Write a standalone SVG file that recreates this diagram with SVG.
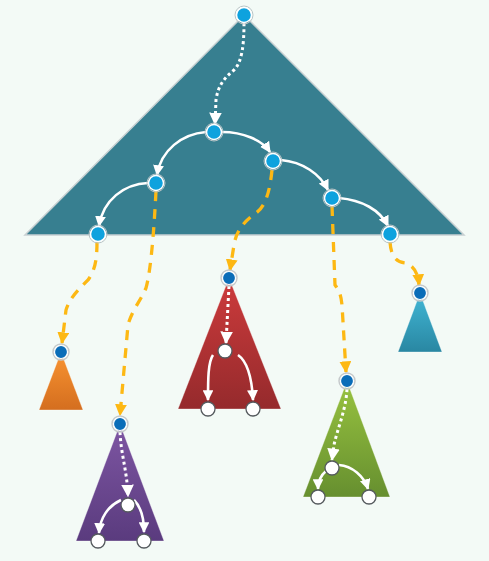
<svg xmlns="http://www.w3.org/2000/svg" width="489" height="561" viewBox="0 0 489 561">
<defs>
<linearGradient id="gOrange" x1="0" y1="0" x2="0" y2="1"><stop offset="0" stop-color="#f99431"/><stop offset="1" stop-color="#d46e1f"/></linearGradient>
<linearGradient id="gPurple" x1="0" y1="0" x2="0" y2="1"><stop offset="0" stop-color="#7e56a3"/><stop offset="1" stop-color="#5a3b7e"/></linearGradient>
<linearGradient id="gRed" x1="0" y1="0" x2="0" y2="1"><stop offset="0" stop-color="#cd3b3c"/><stop offset="1" stop-color="#952a2c"/></linearGradient>
<linearGradient id="gGreen" x1="0" y1="0" x2="0" y2="1"><stop offset="0" stop-color="#98c340"/><stop offset="1" stop-color="#668f2f"/></linearGradient>
<linearGradient id="gCyan" x1="0" y1="0" x2="0" y2="1"><stop offset="0" stop-color="#42b7d6"/><stop offset="1" stop-color="#2987a2"/></linearGradient>
<marker id="aw" viewBox="0 0 10 10" refX="9" refY="5" markerWidth="4.2" markerHeight="4.2" orient="auto" markerUnits="strokeWidth"><path d="M0,0 L10,5 L0,10 Z" fill="#ffffff"/></marker>
<marker id="ay" viewBox="0 0 10 10" refX="9" refY="5" markerWidth="3.6" markerHeight="3.6" orient="auto" markerUnits="strokeWidth"><path d="M0,0 L10,5 L0,10 Z" fill="#fdb813"/></marker>
</defs>
<style>
.tri{stroke:#ffffff;stroke-opacity:0.35;stroke-width:1}
.solid{fill:none;stroke:#ffffff;stroke-width:2.6;marker-end:url(#aw)}
.dot{fill:none;stroke:#ffffff;stroke-width:3;stroke-dasharray:3 3;marker-end:url(#aw)}
.dash{fill:none;stroke:#fdb813;stroke-width:3.3;stroke-dasharray:10 8;marker-end:url(#ay)}
.lb{fill:#0ea2de;stroke:#ffffff;stroke-width:1.5}
.lbr{fill:none;stroke:#b9c4c6;stroke-width:1}
.db{fill:#0a6db8;stroke:#ffffff;stroke-width:1.2}
.dbr{fill:none;stroke:#c4c8ca;stroke-width:1.4}
.wn{fill:#ffffff;stroke:#555a5e;stroke-width:1.3}
</style>
<rect width="489" height="561" fill="#f3faf6"/>
<g id="shapes">
<polygon id="main-tree" points="244,15 464,235 25,235" fill="#377f90" stroke="#c8d0d2" stroke-width="1.5"/>
<polygon id="orange-tree" class="tri" points="61,352 83,410 39,410" fill="url(#gOrange)"/>
<polygon id="purple-tree" class="tri" points="120,424 164,541 76,541" fill="url(#gPurple)"/>
<polygon id="red-tree" class="tri" points="229,278 281,409 178,409" fill="url(#gRed)"/>
<polygon id="green-tree" class="tri" points="347,381 390,497 303,497" fill="url(#gGreen)"/>
<polygon id="cyan-tree" class="tri" points="420,293 442,352 398,352" fill="url(#gCyan)"/>
</g>
<g id="connectors">
<path class="dot" d="M244,23 C244,45 242,62 234,70 C224,78 218,86 216,100 L215,124"/>
<path class="solid" d="M206,132 C182,134 161,150 157,175"/>
<path class="solid" d="M222,132 C243,132 262,140 270,152"/>
<path class="solid" d="M148,183 C124,184 103,200 99,226"/>
<path class="solid" d="M281,160 C303,162 320,174 328,190"/>
<path class="solid" d="M339,198 C362,200 380,210 388,226"/>
<path class="dash" d="M97,242 C97,260 95,270 88,280 C76,292 70,298 66,310 L62,343"/>
<path class="dash" d="M156,191 C154,230 151,270 146,288 C140,302 132,310 128,325 L120,415"/>
<path class="dash" d="M272,170 C270,190 266,206 256,213 C243,222 236,232 234,245 L230,270"/>
<path class="dash" d="M332,206 L335,285 C340,292 341,296 342,305 L346,372"/>
<path class="dash" d="M390,242 C391,256 396,262 405,263 C413,265 418,272 419,285"/>
<path class="dot" d="M229,286 L226,343"/>
<path class="solid" d="M213,355 C208,362 208,380 208,400"/>
<path class="solid" d="M238,355 C248,362 252,380 253,400"/>
<path class="dot" d="M120,432 C121,455 127,470 128,496"/>
<path class="solid" d="M121,500 C108,506 100,518 99,533"/>
<path class="solid" d="M134,500 C142,508 144,520 144,532"/>
<path class="dot" d="M347,389 C346,410 337,430 334,445 L332,460"/>
<path class="solid" d="M326,471 C320,476 318,482 318,489"/>
<path class="solid" d="M339,465 C352,466 364,476 368,489"/>
</g>
<g id="n-root"><circle class="lbr" cx="244" cy="15" r="9"/><circle class="lb" cx="244" cy="15" r="7.5"/></g>
<g id="n-a"><circle class="lbr" cx="214" cy="132" r="9"/><circle class="lb" cx="214" cy="132" r="7.5"/></g>
<g id="n-b"><circle class="lbr" cx="273" cy="161" r="9"/><circle class="lb" cx="273" cy="161" r="7.5"/></g>
<g id="n-c"><circle class="lbr" cx="156" cy="183" r="9"/><circle class="lb" cx="156" cy="183" r="7.5"/></g>
<g id="n-d"><circle class="lbr" cx="332" cy="198" r="9"/><circle class="lb" cx="332" cy="198" r="7.5"/></g>
<g id="n-e"><circle class="lbr" cx="98" cy="234" r="9"/><circle class="lb" cx="98" cy="234" r="7.5"/></g>
<g id="n-f"><circle class="lbr" cx="390" cy="234" r="9"/><circle class="lb" cx="390" cy="234" r="7.5"/></g>
<g id="n-orange"><circle class="dbr" cx="61" cy="352" r="8"/><circle class="db" cx="61" cy="352" r="6.5"/></g>
<g id="n-purple"><circle class="dbr" cx="120" cy="424" r="8"/><circle class="db" cx="120" cy="424" r="6.5"/></g>
<g id="n-red"><circle class="dbr" cx="229" cy="278" r="8"/><circle class="db" cx="229" cy="278" r="6.5"/></g>
<g id="n-green"><circle class="dbr" cx="347" cy="381" r="8"/><circle class="db" cx="347" cy="381" r="6.5"/></g>
<g id="n-cyan"><circle class="dbr" cx="420" cy="293" r="8"/><circle class="db" cx="420" cy="293" r="6.5"/></g>
<g id="n-red-1"><circle class="wn" cx="225" cy="351" r="7"/></g>
<g id="n-red-2"><circle class="wn" cx="208" cy="409" r="7"/></g>
<g id="n-red-3"><circle class="wn" cx="253" cy="409" r="7"/></g>
<g id="n-purple-1"><circle class="wn" cx="128" cy="505" r="7"/></g>
<g id="n-purple-2"><circle class="wn" cx="98" cy="541" r="7"/></g>
<g id="n-purple-3"><circle class="wn" cx="144" cy="541" r="7"/></g>
<g id="n-green-1"><circle class="wn" cx="332" cy="468" r="7"/></g>
<g id="n-green-2"><circle class="wn" cx="318" cy="497" r="7"/></g>
<g id="n-green-3"><circle class="wn" cx="369" cy="497" r="7"/></g>
</svg>
